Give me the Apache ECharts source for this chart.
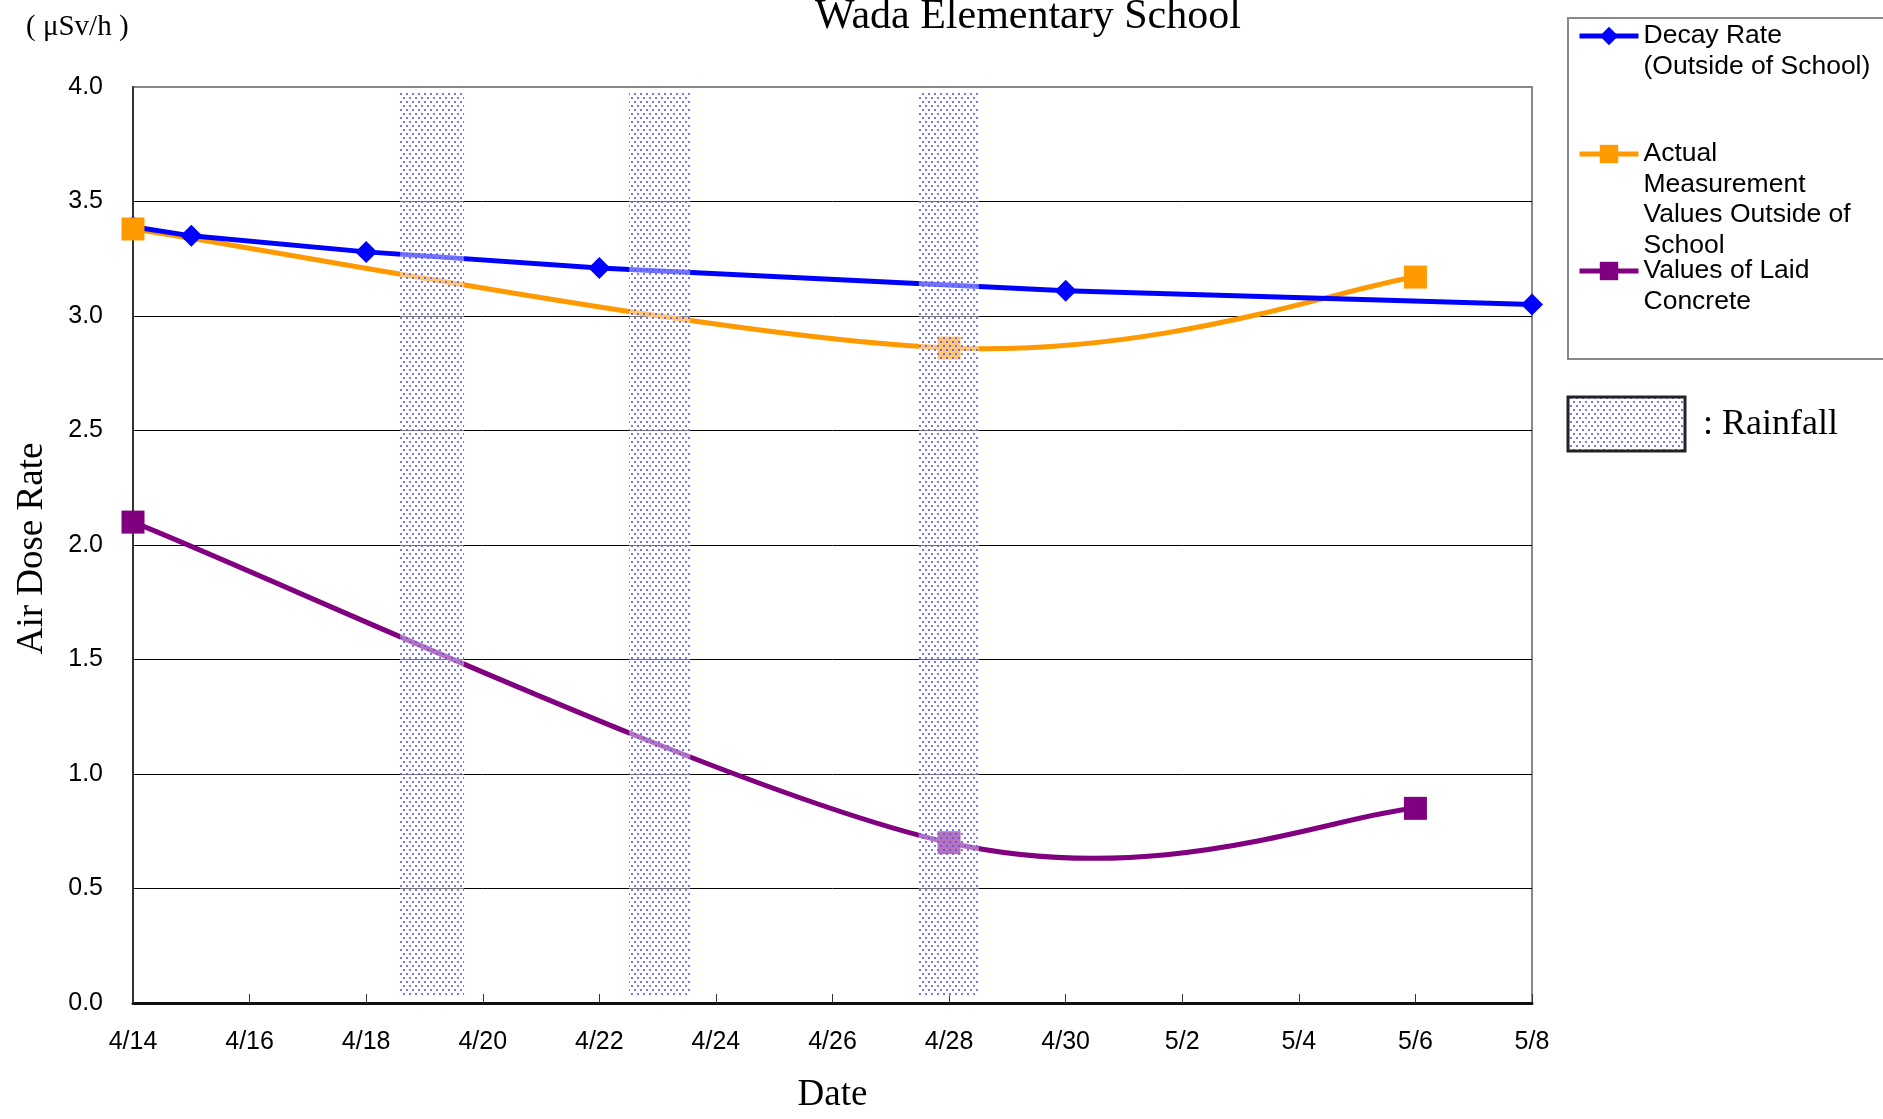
<!DOCTYPE html>
<html>
<head>
<meta charset="utf-8">
<script src="https://cdn.jsdelivr.net/npm/echarts@6/dist/echarts.min.js"></script>
<style>
html,body{margin:0;padding:0;background:#fff;}
#chart{width:1883px;height:1119px;}
</style>
</head>
<body>
<div id="chart"></div>
<script>
// ---- data ----
const tickLabels = ['4/14','4/16','4/18','4/20','4/22','4/24','4/26','4/28','4/30','5/2','5/4','5/6','5/8'];
// x values are days after 4/14
const decayDays = [0, 1, 4, 8, 16, 24];
const decayValues = [3.39, 3.35, 3.28, 3.21, 3.11, 3.05];
const actualDays = [0, 14, 22];
const actualValues = [3.38, 2.86, 3.17];
const concreteDays = [0, 14, 22];
const concreteValues = [2.10, 0.70, 0.85];
const rainStart = [4.58, 8.51, 13.48];
const rainEnd = [5.68, 9.56, 14.51];
const rainTop = 3.98;
const rainBottom = 0.03;
const seriesNames = ['Decay Rate (Outside of School)', 'Actual Measurement Values Outside of School', 'Values of Laid Concrete'];
const legendLabels = ['Decay Rate\n(Outside of School)', 'Actual\nMeasurement\nValues Outside of\nSchool', 'Values of Laid\nConcrete'];
const colors = ['#0000ff', '#ff9900', '#800080'];

function pairs(xs, ys){ return xs.map((x, i) => [x, ys[i]]); }

function makePattern(){
  const c = document.createElement('canvas');
  c.width = 6; c.height = 8;
  const g = c.getContext('2d');
  g.fillStyle = 'rgba(255,255,255,0.45)';
  g.fillRect(0, 0, 6, 8);
  g.fillStyle = 'rgba(80,80,255,0.8)';
  g.fillRect(1, 1, 2, 2);
  g.fillRect(4, 5, 2, 2);
  return c;
}
const rainFill = {image: makePattern(), repeat: 'repeat'};

const sansFont = 'Liberation Sans, Arial, sans-serif';
const serifFont = 'Liberation Serif, Times New Roman, serif';

function legendFor(i, iconCenter, lines){
  const L = 30.5;
  return {
    top: iconCenter - (2 * lines - 1) * L / 2, left: 1577, padding: 0,
    orient: 'vertical',
    itemWidth: 59, itemHeight: 23,
    selectedMode: false,
    data: [seriesNames[i]],
    formatter: () => '\n'.repeat(lines - 1) + legendLabels[i],
    lineStyle: {color: colors[i], width: 5, opacity: 1},
    textStyle: {fontFamily: sansFont, fontSize: 26.5, color: '#000', lineHeight: L}
  };
}

// Smoothed curve (Catmull-Rom style Bezier) through the data points, positioned via the axes.
function curveSeries(id, days, values, color){
  return {
    id: id, type: 'custom', z: 2, silent: true,
    data: pairs(days, values),
    encode: {x: 0, y: 1},
    renderItem: function(params, api){
      const i = params.dataIndex;
      const n = days.length;
      if (i >= n - 1) return {type: 'group', children: []};
      const P = k => api.coord([days[Math.max(0, Math.min(n - 1, k))], values[Math.max(0, Math.min(n - 1, k))]]);
      const p0 = P(i - 1), p1 = P(i), p2 = P(i + 1), p3 = P(i + 2);
      return {
        type: 'bezierCurve',
        shape: {
          x1: p1[0], y1: p1[1], x2: p2[0], y2: p2[1],
          cpx1: p1[0] + (p2[0] - p0[0]) / 6, cpy1: p1[1] + (p2[1] - p0[1]) / 6,
          cpx2: p2[0] - (p3[0] - p1[0]) / 6, cpy2: p2[1] - (p3[1] - p1[1]) / 6
        },
        style: {stroke: color, lineWidth: 5, fill: null, lineCap: 'round'}
      };
    }
  };
}

const chart = echarts.init(document.getElementById('chart'), null, {renderer: 'canvas'});

const option = {
  animation: false,
  backgroundColor: '#fff',
  title: {
    text: 'Wada Elementary School',
    left: 1028, top: -4, padding: 0,
    textAlign: 'center',
    textStyle: {fontFamily: serifFont, fontSize: 42, fontWeight: 'normal', color: '#000'}
  },
  legend: [
    legendFor(0, 36, 2),
    legendFor(1, 154, 4),
    legendFor(2, 271, 2)
  ],
  graphic: [
    {type: 'rect', z: -1, shape: {x: 1568, y: 18, width: 330, height: 341},
     style: {fill: '#fff', stroke: '#888', lineWidth: 2}},
    {type: 'rect', shape: {x: 1568, y: 397, width: 117, height: 54},
     style: {fill: rainFill, stroke: '#222', lineWidth: 3}},
    {type: 'text', x: 1703, y: 425,
     style: {text: ': Rainfall', font: '36px "Liberation Serif"', fill: '#000', verticalAlign: 'middle'}},
    {type: 'text', x: 26, y: 27,
     style: {text: '( μSv/h )', font: '29px "Liberation Serif"', fill: '#000', verticalAlign: 'middle'}}
  ],
  grid: {
    left: 133, top: 87, width: 1399, height: 923,
    show: true, borderColor: '#888', borderWidth: 2, backgroundColor: 'transparent'
  },
  xAxis: {
    type: 'value', min: 0, max: 24, interval: 2,
    name: 'Date', nameLocation: 'middle', nameGap: 74,
    nameTextStyle: {fontFamily: serifFont, fontSize: 37, color: '#000'},
    axisLine: {lineStyle: {color: '#111', width: 3}},
    axisTick: {inside: true, length: 9, lineStyle: {color: '#333', width: 1}},
    axisLabel: {
      margin: 27, fontFamily: sansFont, fontSize: 25, color: '#000',
      formatter: v => tickLabels[Math.round(v / 2)]
    },
    splitLine: {show: false}
  },
  yAxis: {
    type: 'value', min: 0, max: 4, interval: 0.5,
    name: 'Air Dose Rate', nameLocation: 'middle', nameGap: 82,
    nameTextStyle: {fontFamily: serifFont, fontSize: 37, color: '#000', padding: [0, 7, 0, 0]},
    axisLine: {show: true, lineStyle: {color: '#333', width: 2}},
    axisTick: {show: false},
    axisLabel: {
      margin: 30, fontFamily: sansFont, fontSize: 25, color: '#000',
      formatter: v => v.toFixed(1)
    },
    splitLine: {show: true, showMaxLine: false, showMinLine: false, lineStyle: {color: '#000', width: 1}}
  },
  series: [
    {
      name: seriesNames[0], type: 'line', data: pairs(decayDays, decayValues),
      symbol: 'diamond', symbolSize: 22, showAllSymbol: true,
      lineStyle: {color: colors[0], width: 5}, itemStyle: {color: colors[0]}, z: 3
    },
    curveSeries('curve-actual', actualDays, actualValues, colors[1]),
    curveSeries('curve-concrete', concreteDays, concreteValues, colors[2]),
    {
      name: seriesNames[1], type: 'line', data: pairs(actualDays, actualValues),
      symbol: 'rect', symbolSize: 23, showAllSymbol: true,
      lineStyle: {color: colors[1], width: 0, opacity: 0}, itemStyle: {color: colors[1]}, z: 4
    },
    {
      name: seriesNames[2], type: 'line', data: pairs(concreteDays, concreteValues),
      symbol: 'rect', symbolSize: 23, showAllSymbol: true,
      lineStyle: {color: colors[2], width: 0, opacity: 0}, itemStyle: {color: colors[2]}, z: 4
    },
    {
      name: 'Rainfall', type: 'custom', z: 10, silent: true,
      data: rainStart.map((s, i) => [s, rainEnd[i], rainTop, rainBottom]),
      encode: {x: [0, 1], y: [2, 3]},
      renderItem: function(params, api){
        const p1 = api.coord([api.value(0), api.value(2)]);
        const p2 = api.coord([api.value(1), api.value(3)]);
        return {
          type: 'rect',
          shape: {x: p1[0], y: p1[1], width: p2[0] - p1[0], height: p2[1] - p1[1]},
          style: {fill: rainFill, stroke: null}
        };
      }
    }
  ]
};
chart.setOption(option);
</script>
</body>
</html>
